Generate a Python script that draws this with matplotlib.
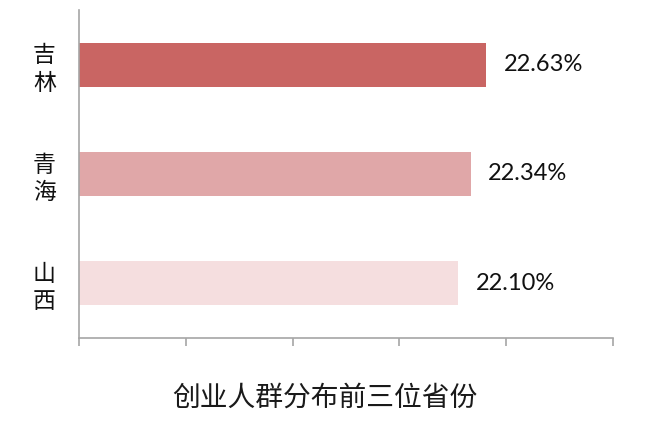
import matplotlib
matplotlib.use("Agg")
import matplotlib.pyplot as plt

plt.rcParams['font.family'] = ['Noto Sans CJK SC', 'DejaVu Sans']

provinces = ["吉林", "青海", "山西"]
values = [22.63, 22.34, 22.10]
value_labels = ["22.63%", "22.34%", "22.10%"]
colors = ["#C96563", "#E0A7A8", "#F5DEDF"]
title = "创业人群分布前三位省份"

fig = plt.figure(figsize=(6.55, 4.26), dpi=100)
ax = fig.add_axes([79/655, 88/426, 534/655, 328/426])

ypos = list(range(len(provinces)))
ax.barh(ypos, values, height=0.4, color=colors, left=0)
ax.set_xlim(15, 25)
ax.set_ylim(2.5, -0.5)
ax.set_xticks([15, 17, 19, 21, 23, 25])
ax.set_xticklabels([])
ax.tick_params(axis='x', direction='out', length=6, width=1.2, color='#A6A6A6')

ax.set_yticks(ypos)
ax.set_yticklabels(["\n".join(p) for p in provinces], fontsize=16.5, linespacing=1.25,
                   ha='center', color='#111111')
ax.tick_params(axis='y', length=0, pad=25)

for s in ['top', 'right']:
    ax.spines[s].set_visible(False)
for s in ['left', 'bottom']:
    ax.spines[s].set_color('#A6A6A6')
    ax.spines[s].set_linewidth(1.2)

for y, v, lab in zip(ypos, values, value_labels):
    ax.annotate(lab, xy=(v, y), xytext=(12.5, 0), textcoords='offset points',
                va='center', ha='left', fontsize=17, family=['Lato', 'DejaVu Sans'],
                color='#111111')

fig.text(325/655, 1 - 398/426, title, ha='center', va='center', fontsize=20,
         color='#1a1a1a')

fig.savefig("out.png", dpi=100)
